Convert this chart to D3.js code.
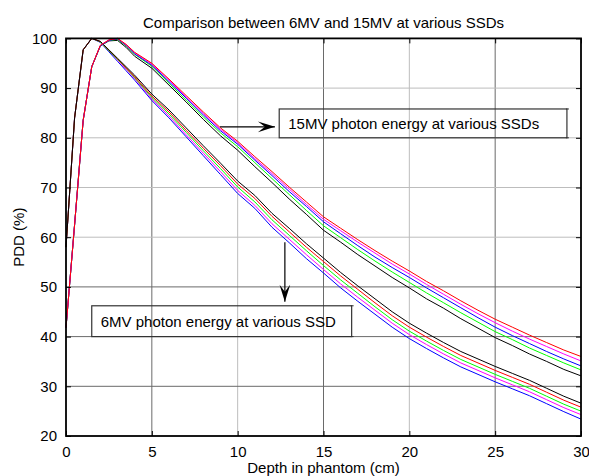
<!DOCTYPE html>
<html>
<head>
<meta charset="utf-8">
<script src="https://cdn.jsdelivr.net/npm/d3@7"></script>
<style>
  html, body { margin: 0; padding: 0; background: #fff; }
  svg { display: block; }
</style>
</head>
<body>
<div id="chart"></div>
<script>
// depths (cm) at which the PDD curves were read
var depths = [0, 0.5, 1, 1.5, 2, 2.5, 3, 3.5, 4, 5, 6, 7, 8, 9, 10, 11, 12, 13, 14, 15,
              16, 17, 18, 19, 20, 21, 22, 23, 24, 25, 26, 27, 28, 29, 30];

// 6MV curves (one per SSD)
var pdd6Black   = [58.0, 84.0, 97.7, 100.0, 99.4, 97.7, 96.0, 94.3, 92.6, 88.8, 85.6, 82.0, 78.4, 74.9, 71.3, 68.4, 64.8, 61.8, 58.7, 55.8,
                   52.9, 50.2, 47.6, 45.0, 42.7, 40.7, 38.8, 37.0, 35.5, 34.0, 32.6, 31.2, 29.6, 28.0, 26.6];
var pdd6Red     = [58.0, 84.0, 97.7, 100.0, 99.4, 97.6, 95.9, 94.1, 92.3, 88.4, 85.2, 81.5, 77.9, 74.4, 70.7, 67.8, 64.2, 61.1, 58.0, 55.1,
                   52.2, 49.5, 46.8, 44.2, 41.9, 39.9, 38.0, 36.2, 34.7, 33.2, 31.8, 30.4, 28.8, 27.2, 25.8];
var pdd6Green   = [58.0, 84.0, 97.7, 100.0, 99.3, 97.5, 95.8, 94.0, 92.1, 88.1, 84.8, 81.1, 77.4, 73.8, 70.1, 67.1, 63.5, 60.4, 57.3, 54.3,
                   51.4, 48.7, 46.0, 43.4, 41.1, 39.1, 37.2, 35.4, 33.9, 32.4, 31.0, 29.6, 28.0, 26.4, 25.0];
var pdd6Magenta = [58.0, 84.0, 97.7, 100.0, 99.3, 97.5, 95.7, 93.8, 91.9, 87.8, 84.4, 80.6, 76.9, 73.2, 69.4, 66.4, 62.7, 59.6, 56.5, 53.5,
                   50.6, 47.9, 45.3, 42.7, 40.4, 38.4, 36.5, 34.7, 33.2, 31.7, 30.3, 28.9, 27.3, 25.7, 24.3];
var pdd6Blue    = [58.0, 84.0, 97.7, 100.0, 99.2, 97.3, 95.4, 93.5, 91.6, 87.5, 84.0, 80.2, 76.4, 72.6, 68.8, 65.8, 62.0, 58.9, 55.7, 52.8,
                   49.8, 47.1, 44.5, 41.9, 39.6, 37.6, 35.7, 33.9, 32.4, 30.9, 29.5, 28.1, 26.5, 24.9, 23.4];

// 15MV curves (one per SSD)
var pdd15Red     = [41.8, 62.5, 83.5, 94.3, 98.6, 99.7, 100.0, 98.8, 97.2, 95.0, 91.8, 88.5, 85.2, 82.0, 79.3, 76.2, 73.2, 70.1, 67.1, 64.1,
                    61.8, 59.5, 57.3, 55.2, 53.2, 51.1, 49.2, 47.2, 45.3, 43.5, 41.9, 40.3, 38.8, 37.3, 36.0];
var pdd15Magenta = [41.8, 62.5, 83.5, 94.3, 98.6, 99.7, 100.0, 98.7, 97.1, 94.8, 91.6, 88.2, 84.9, 81.7, 79.0, 75.8, 72.8, 69.7, 66.6, 63.6,
                    61.3, 59.0, 56.8, 54.6, 52.6, 50.5, 48.5, 46.5, 44.6, 42.8, 41.1, 39.5, 38.0, 36.5, 35.1];
var pdd15Blue    = [41.8, 62.5, 83.5, 94.3, 98.5, 99.6, 99.9, 98.6, 96.9, 94.6, 91.3, 88.0, 84.6, 81.4, 78.7, 75.5, 72.4, 69.2, 66.2, 63.1,
                    60.7, 58.3, 56.0, 53.9, 51.9, 49.8, 47.8, 45.8, 43.8, 41.9, 40.2, 38.6, 37.0, 35.5, 34.1];
var pdd15Green   = [41.8, 62.5, 83.5, 94.3, 98.5, 99.6, 99.8, 98.5, 96.8, 94.4, 91.0, 87.6, 84.2, 81.0, 78.2, 75.0, 71.8, 68.6, 65.4, 62.3,
                    59.9, 57.5, 55.2, 53.0, 50.9, 48.8, 46.8, 44.8, 42.9, 41.0, 39.4, 37.7, 36.2, 34.7, 33.3];
var pdd15Black   = [41.8, 62.5, 83.5, 94.3, 98.5, 99.5, 99.6, 98.2, 96.4, 94.0, 90.6, 87.2, 83.7, 80.4, 77.5, 74.2, 71.0, 67.7, 64.6, 61.4,
                    59.0, 56.5, 54.2, 51.9, 49.8, 47.6, 45.7, 43.6, 41.7, 39.8, 38.2, 36.5, 35.0, 33.4, 32.1];

var xTicks = [0, 5, 10, 15, 20, 25, 30];
var yTicks = [20, 30, 40, 50, 60, 70, 80, 90, 100];

var titleText = 'Comparison between 6MV and 15MV at various SSDs';
var xLabelText = 'Depth in phantom (cm)';
var yLabelText = 'PDD (%)';
var note15Text = '15MV photon energy at various SSDs';
var note6Text = '6MV photon energy at various SSD';

// drawing order: the last one ends up on top
var series = [
    { name: '6MV', color: 'blue',    values: pdd6Blue },
    { name: '6MV', color: 'magenta', values: pdd6Magenta },
    { name: '6MV', color: 'lime',    values: pdd6Green },
    { name: '6MV', color: 'red',     values: pdd6Red },
    { name: '6MV', color: 'black',   values: pdd6Black },
    { name: '15MV', color: 'black',   values: pdd15Black },
    { name: '15MV', color: 'lime',    values: pdd15Green },
    { name: '15MV', color: 'blue',    values: pdd15Blue },
    { name: '15MV', color: 'magenta', values: pdd15Magenta },
    { name: '15MV', color: 'red',     values: pdd15Red }
];

var attrs = {
    svgWidth: 589,
    svgHeight: 476,
    marginTop: 38.4,
    marginLeft: 66,
    marginRight: 8,
    marginBottom: 40,
    font: '"Liberation Sans", Arial, sans-serif',
    fontSize: 15,
    tickSize: 5,
    gridLight: '#bdbdbd',
    gridDark: '#6a6a6a'
};

var calc = {};
calc.chartWidth = attrs.svgWidth - attrs.marginLeft - attrs.marginRight;
calc.chartHeight = attrs.svgHeight - attrs.marginTop - attrs.marginBottom;

var x = d3.scaleLinear().domain([0, 30]).range([0, calc.chartWidth]);
var y = d3.scaleLinear().domain([20, 100]).range([calc.chartHeight, 0]);

var svg = d3.select('#chart').append('svg')
    .attr('width', attrs.svgWidth)
    .attr('height', attrs.svgHeight)
    .attr('font-family', attrs.font)
    .attr('font-size', attrs.fontSize);

var chart = svg.append('g')
    .attr('transform', 'translate(' + attrs.marginLeft + ',' + attrs.marginTop + ')');

// grid (dotted matlab grid looks like alternating grey shades once scaled down)
chart.append('g').selectAll('line.vgrid')
    .data(xTicks.slice(1, -1))
    .enter().append('line')
    .attr('class', 'vgrid')
    .attr('x1', d => x(d)).attr('x2', d => x(d))
    .attr('y1', 0).attr('y2', calc.chartHeight)
    .attr('stroke', d => d % 10 === 0 ? attrs.gridLight : attrs.gridDark)
    .attr('stroke-width', 1);

chart.append('g').selectAll('line.hgrid')
    .data(yTicks.slice(1, -1))
    .enter().append('line')
    .attr('class', 'hgrid')
    .attr('x1', 0).attr('x2', calc.chartWidth)
    .attr('y1', d => y(d)).attr('y2', d => y(d))
    .attr('stroke', d => d <= 50 ? attrs.gridDark : attrs.gridLight)
    .attr('stroke-width', 1);

// curves
var line = d3.line()
    .x((d, i) => x(depths[i]))
    .y(d => y(d));

chart.append('g').selectAll('path.curve')
    .data(series)
    .enter().append('path')
    .attr('class', 'curve')
    .attr('d', d => line(d.values))
    .attr('fill', 'none')
    .attr('stroke', d => d.color)
    .attr('stroke-width', 1)
    .attr('stroke-linejoin', 'round');

// axes box with inward ticks on all four sides
var xAxisB = d3.axisBottom(x).tickValues(xTicks).tickSize(-attrs.tickSize).tickPadding(10);
var xAxisT = d3.axisTop(x).tickValues(xTicks).tickSize(-attrs.tickSize).tickFormat('');
var yAxisL = d3.axisLeft(y).tickValues(yTicks).tickSize(-attrs.tickSize).tickPadding(9);
var yAxisR = d3.axisRight(y).tickValues(yTicks).tickSize(-attrs.tickSize).tickFormat('');

function styleAxis(g) {
    g.select('.domain').remove();
    g.selectAll('.tick line').attr('stroke', '#000');
    g.selectAll('.tick text')
        .attr('fill', '#000')
        .attr('font-size', attrs.fontSize)
        .attr('font-family', attrs.font);
}

chart.append('g').attr('transform', 'translate(0,' + calc.chartHeight + ')').call(xAxisB).call(styleAxis);
chart.append('g').call(xAxisT).call(styleAxis);
chart.append('g').call(yAxisL).call(styleAxis);
chart.append('g').attr('transform', 'translate(' + calc.chartWidth + ',0)').call(yAxisR).call(styleAxis);

chart.append('rect')
    .attr('x', 0).attr('y', 0)
    .attr('width', calc.chartWidth).attr('height', calc.chartHeight)
    .attr('fill', 'none')
    .attr('stroke', '#000')
    .attr('stroke-width', 1.8);

// annotations, placed in data units
var arrowHead = function (len, half, notch) {
    return 'M0,0L' + (-len) + ',' + (-half) + 'L' + (-notch) + ',0L' + (-len) + ',' + half + 'Z';
};

function arrow(x0, y0, x1, y1) {
    var px0 = x(x0), py0 = y(y0), px1 = x(x1), py1 = y(y1);
    var ang = Math.atan2(py1 - py0, px1 - px0) * 180 / Math.PI;
    chart.append('line')
        .attr('x1', px0).attr('y1', py0)
        .attr('x2', px1).attr('y2', py1)
        .attr('stroke', '#000').attr('stroke-width', 1.2);
    chart.append('path')
        .attr('d', arrowHead(17, 5.3, 10))
        .attr('transform', 'translate(' + px1 + ',' + py1 + ') rotate(' + ang + ')')
        .attr('fill', '#000');
}

function noteBox(x0, x1, yTop, yBottom, label) {
    var bx0 = x(x0), bx1 = x(x1), by0 = y(yTop), by1 = y(yBottom);
    var g = chart.append('g');
    g.append('rect')
        .attr('x', bx0).attr('y', by0)
        .attr('width', bx1 - bx0).attr('height', by1 - by0)
        .attr('fill', 'none')
        .attr('stroke', '#333')
        .attr('stroke-width', 1.2);
    // little serifs on the right edge, as matlab draws them
    g.append('path')
        .attr('d', 'M' + (bx1 - 1) + ',' + by0 + 'h3M' + (bx1 - 1) + ',' + by1 + 'h3')
        .attr('stroke', '#333').attr('stroke-width', 1);
    g.append('text')
        .attr('x', bx0 + 9)
        .attr('y', (by0 + by1) / 2)
        .attr('dy', '0.36em')
        .attr('fill', '#000')
        .text(label);
}

arrow(8.97, 82.2, 12.17, 82.2);
noteBox(12.42, 29.18, 85.8, 80.0, note15Text);

arrow(12.75, 59.0, 12.75, 47.0);
noteBox(1.5, 16.64, 46.2, 40.0, note6Text);

// titles
svg.append('text')
    .attr('x', attrs.marginLeft + calc.chartWidth / 2)
    .attr('y', 27.5)
    .attr('text-anchor', 'middle')
    .text(titleText);

svg.append('text')
    .attr('x', attrs.marginLeft + calc.chartWidth / 2)
    .attr('y', 473)
    .attr('text-anchor', 'middle')
    .text(xLabelText);

svg.append('text')
    .attr('transform', 'translate(24,' + (attrs.marginTop + calc.chartHeight / 2) + ') rotate(-90)')
    .attr('text-anchor', 'middle')
    .text(yLabelText);
</script>
</body>
</html>
